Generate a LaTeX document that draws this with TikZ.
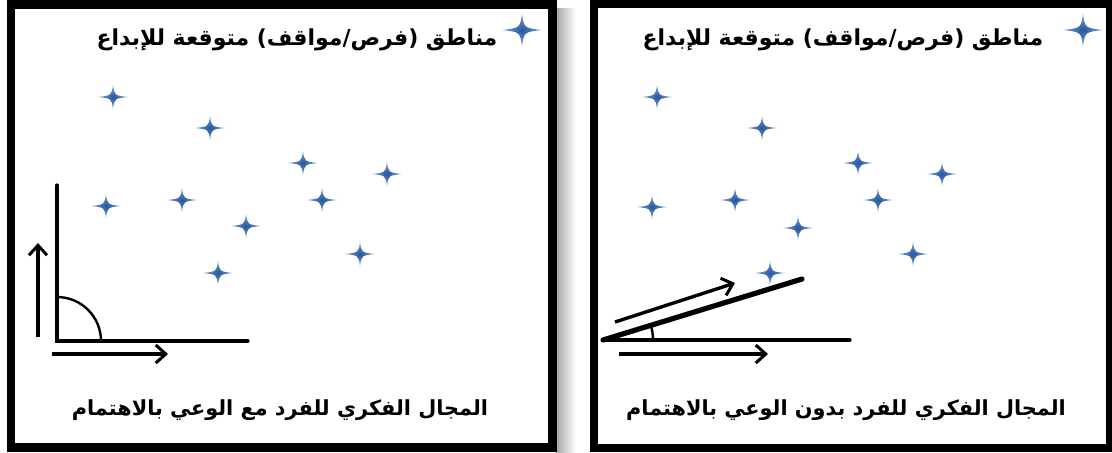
\documentclass[tikz,border=0pt]{standalone}
\usepackage{fontspec}
\usetikzlibrary{arrows.meta}
\TeXXeTstate=1
\newfontfamily\arabicfont[Script=Arabic]{DejaVu Sans}
\definecolor{sparkdark}{RGB}{38,86,156}
\definecolor{sparklight}{RGB}{128,166,218}

\begin{document}
\begin{tikzpicture}[
    x=0.5pt, y=-0.5pt,
    frame/.style={
        draw=black,
        line width=4.2pt,
        fill=white
    },
    axis line/.style={
        line width=1.6pt,
        line cap=round
    },
    motion/.style={
        line width=1.7pt,
        -{Straight Barb[length=5pt,width=9pt,line width=1.5pt]}
    },
    title/.style={
        font=\arabicfont\bfseries\fontsize{11}{14}\selectfont,
        inner sep=0pt
    },
    caption/.style={
        font=\arabicfont\bfseries\fontsize{10.4}{13}\selectfont,
        inner sep=0pt
    },
    spark/.pic={
        \shade[inner color=sparkdark, outer color=sparklight]
            (-15,0) .. controls (-1.5,-1.5) .. (0,-12)
            .. controls (1.5,-1.5) .. (15,0)
            .. controls (1.5,1.5) .. (0,12)
            .. controls (-1.5,1.5) .. cycle;
    }
]

% Fondo
\fill[white] (0,0) rectangle (1112,452);
\useasboundingbox (0,0) rectangle (1112,452);

% Marcos
\shade[left color=black!35, right color=white] (556,8) rectangle (576,452);
\draw[frame] (11,4.5) rectangle (552.5,447.5);
\draw[frame] (594,4) rectangle (1110,448);

% Titulos
\node[title] (titleL) at (297,40) {\beginR مناطق (فرص/مواقف) متوقعة للإبداع\endR};
\node[title] (titleR) at (843,40) {\beginR مناطق (فرص/مواقف) متوقعة للإبداع\endR};

% Estrellas, panel izquierdo
\pic[scale=1.35] at (522,30) {spark};
\pic at (113,97) {spark};
\pic at (210,128) {spark};
\pic at (303,163) {spark};
\pic at (387,174) {spark};
\pic at (106,206) {spark};
\pic at (182,200) {spark};
\pic at (322,200) {spark};
\pic at (246,226) {spark};
\pic at (360,254) {spark};
\pic at (218,273) {spark};

% Estrellas, panel derecho
\pic[scale=1.35] at (1083,30) {spark};
\pic at (657,97) {spark};
\pic at (762,128) {spark};
\pic at (858,163) {spark};
\pic at (942,174) {spark};
\pic at (652,207) {spark};
\pic at (735,200) {spark};
\pic at (878,200) {spark};
\pic at (798,228) {spark};
\pic at (913,254) {spark};
\pic at (770,273) {spark};

% Angulo recto
\coordinate (L-o) at (57,341);
\coordinate (L-top) at (57,185);
\coordinate (L-end) at (248,341);
\coordinate (L-arc) at (101,341);
\coordinate (L-upfrom) at (38,337);
\coordinate (L-upto) at (38,243);
\coordinate (L-rfrom) at (52,354);
\coordinate (L-rto) at (168,354);
\draw[axis line] (L-top) -- (L-o) -- (L-end);
\draw[line width=1.2pt] (L-arc) arc[start angle=0, end angle=90, radius=22pt];
\draw[motion] (L-upfrom) -- (L-upto);
\draw[motion] (L-rfrom) -- (L-rto);

% Angulo agudo
\coordinate (R-o) at (603,340);
\coordinate (R-end) at (850,340);
\coordinate (R-tip) at (802,279);
\coordinate (R-arc) at (653,340);
\coordinate (R-upfrom) at (615,322);
\coordinate (R-upto) at (735,283);
\coordinate (R-rfrom) at (619,354);
\coordinate (R-rto) at (768,354);
\draw[axis line] (R-o) -- (R-end);
\draw[line width=2.6pt, line cap=round] (R-o) -- (R-tip);
\draw[line width=1.2pt] (R-arc) arc[start angle=0, end angle=17, radius=25pt];
\draw[motion] (R-upfrom) -- (R-upto);
\draw[motion] (R-rfrom) -- (R-rto);

% Leyendas
\node[caption] (capL) at (280,410) {\beginR المجال الفكري للفرد مع الوعي بالاهتمام\endR};
\node[caption] (capR) at (846,410) {\beginR المجال الفكري للفرد بدون الوعي بالاهتمام\endR};

\end{tikzpicture}
\end{document}
